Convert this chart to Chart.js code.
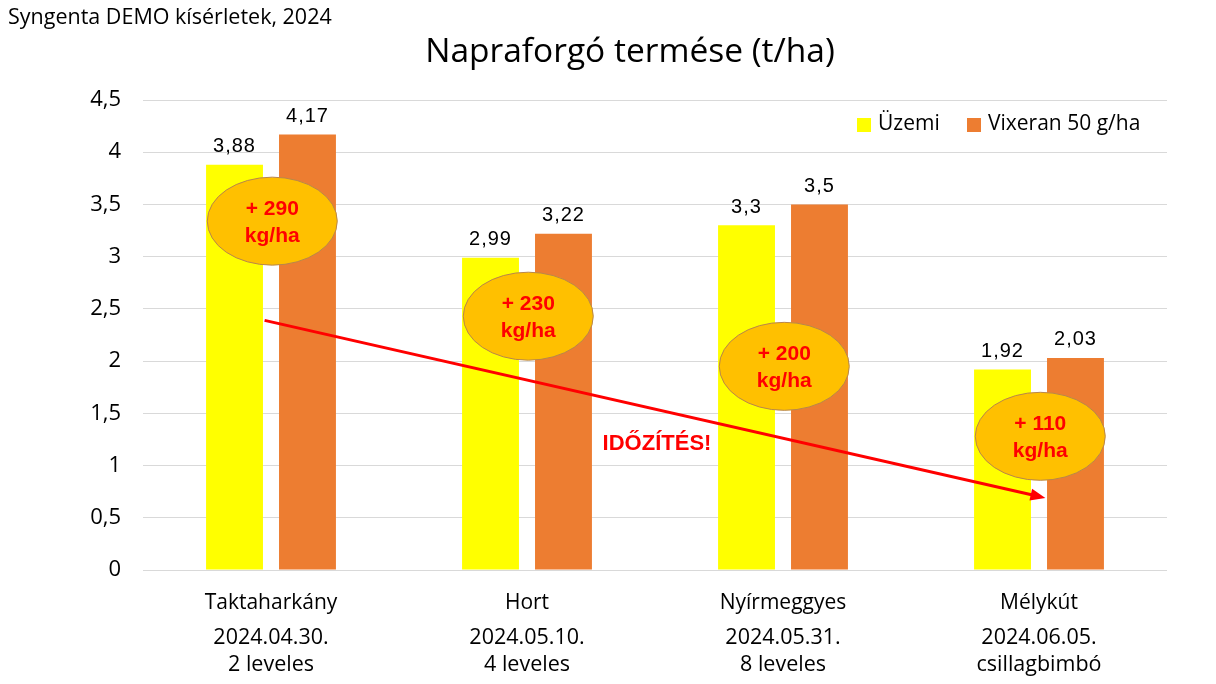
<!DOCTYPE html>
<html><head><meta charset="utf-8">
<script src="https://cdn.jsdelivr.net/npm/chart.js@4"></script>
<style>html,body{margin:0;padding:0;background:#fff}#wrap{width:1216px;height:684px}</style>
</head><body><div id="wrap"><canvas id="c" width="1216" height="684"></canvas></div>
<script>
const categories = ["Taktaharkány", "Hort", "Nyírmeggyes", "Mélykút"];
const dates = ["2024.04.30.", "2024.05.10.", "2024.05.31.", "2024.06.05."];
const stages = ["2 leveles", "4 leveles", "8 leveles", "csillagbimbó"];
const uzemi = [3.88, 2.99, 3.3, 1.92];
const vixeran = [4.17, 3.22, 3.5, 2.03];
const gains = ["+ 290", "+ 230", "+ 200", "+ 110"];
const gainAnchorY = [3.34, 2.43, 1.95, 1.28];
const seriesNames = ["Üzemi", "Vixeran 50 g/ha"];
const yTicks = [0, 0.5, 1, 1.5, 2, 2.5, 3, 3.5, 4, 4.5];

const fmt = v => String(v).replace('.', ',');
const SANS = "'Open Sans', 'Noto Sans', sans-serif";
const ARIAL = "'Liberation Sans', Arial, sans-serif";

const overlay = {
  id: 'overlay',
  afterDatasetsDraw(chart) {
    const ctx = chart.ctx, xs = chart.scales.x, ys = chart.scales.y;
    ctx.save();
    // value labels
    ctx.font = "20px " + ARIAL; ctx.fillStyle = '#000'; ctx.textAlign = 'center'; ctx.textBaseline = 'middle';
    ctx.letterSpacing = '1px';
    chart.data.datasets.forEach((ds, di) => {
      chart.getDatasetMeta(di).data.forEach((bar, i) => {
        ctx.fillText(fmt(ds.data[i]), bar.x, bar.y - 18);
      });
    });
    ctx.letterSpacing = '0px';
    // arrow
    const x1 = xs.getPixelForValue(-0.025), y1 = ys.getPixelForValue(2.39);
    const x2 = xs.getPixelForValue(3.025), y2 = ys.getPixelForValue(0.69);
    ctx.strokeStyle = '#FF0000'; ctx.fillStyle = '#FF0000'; ctx.lineWidth = 3;
    const ang = Math.atan2(y2 - y1, x2 - x1);
    ctx.beginPath(); ctx.moveTo(x1, y1);
    ctx.lineTo(x2 - 12 * Math.cos(ang), y2 - 12 * Math.sin(ang)); ctx.stroke();
    ctx.beginPath(); ctx.moveTo(x2, y2);
    ctx.lineTo(x2 - 15 * Math.cos(ang) + 6 * Math.sin(ang), y2 - 15 * Math.sin(ang) - 6 * Math.cos(ang));
    ctx.lineTo(x2 - 15 * Math.cos(ang) - 6 * Math.sin(ang), y2 - 15 * Math.sin(ang) + 6 * Math.cos(ang));
    ctx.closePath(); ctx.fill();
    // ellipses
    gains.forEach((g, i) => {
      const cx = xs.getPixelForValue(i + 0.005), cy = ys.getPixelForValue(gainAnchorY[i]);
      ctx.beginPath(); ctx.ellipse(cx, cy, 65, 44, 0, 0, Math.PI * 2);
      ctx.fillStyle = '#FFC000'; ctx.fill();
      ctx.strokeStyle = '#B8864B'; ctx.lineWidth = 1; ctx.stroke();
      ctx.fillStyle = '#FF0000'; ctx.font = "bold 21px " + ARIAL;
      ctx.fillText(g, cx, cy - 12);
      ctx.fillText('kg/ha', cx, cy + 15);
    });
    // timing text
    ctx.font = "bold 22px " + ARIAL; ctx.fillStyle = '#FF0000';
    ctx.fillText('IDŐZÍTÉS!', xs.getPixelForValue(1.5) + 2, ys.getPixelForValue(1.21));
    ctx.restore();
  },
  afterDraw(chart) {
    const ctx = chart.ctx, xs = chart.scales.x;
    ctx.save();
    ctx.fillStyle = '#000'; ctx.textBaseline = 'middle';
    // subtitle and title
    ctx.textAlign = 'left'; ctx.font = "21.5px " + SANS;
    ctx.fillText('Syngenta DEMO kísérletek, 2024', 8, 18);
    ctx.textAlign = 'center'; ctx.font = "33.5px " + SANS;
    ctx.fillText('Napraforgó termése (t/ha)', 630, 52);
    // second/third label lines
    ctx.font = "21.5px " + SANS;
    categories.forEach((c, i) => {
      const x = xs.getPixelForValue(i);
      ctx.fillText(dates[i], x, 638);
      ctx.fillText(stages[i], x, 665);
    });
    // legend
    const colors = chart.data.datasets.map(d => d.backgroundColor);
    ctx.textAlign = 'left'; ctx.font = "21px " + SANS;
    const lx = [857, 967];
    seriesNames.forEach((n, i) => {
      ctx.fillStyle = colors[i]; ctx.fillRect(lx[i], 118, 14, 14);
      ctx.fillStyle = '#000'; ctx.fillText(n, lx[i] + 21, 124);
    });
    ctx.restore();
  }
};

new Chart(document.getElementById('c'), {
  type: 'bar',
  data: {
    labels: categories,
    datasets: [
      { label: seriesNames[0], data: uzemi, backgroundColor: '#FFFF00', categoryPercentage: 0.57, barPercentage: 0.78 },
      { label: seriesNames[1], data: vixeran, backgroundColor: '#ED7D31', categoryPercentage: 0.57, barPercentage: 0.78 }
    ]
  },
  options: {
    responsive: false, animation: false,
    layout: { padding: { left: 0, right: 49, top: 100, bottom: 0 } },
    plugins: { legend: { display: false }, tooltip: { enabled: false } },
    scales: {
      x: {
        grid: { display: false, drawTicks: false },
        border: { display: false },
        ticks: { color: '#000', font: { size: 21, family: SANS }, padding: 20 },
        afterFit(s) { s.height = 114; }
      },
      y: {
        min: 0, max: 4.5,
        afterBuildTicks(s) { s.ticks = yTicks.map(v => ({ value: v })); },
        grid: { color: '#D9D9D9', lineWidth: 1, drawTicks: false },
        border: { display: false },
        ticks: { color: '#000', font: { size: 22, family: SANS }, padding: 22, callback: v => fmt(v) },
        afterFit(s) { s.width = 143; }
      }
    }
  },
  plugins: [overlay]
});
</script></body></html>
